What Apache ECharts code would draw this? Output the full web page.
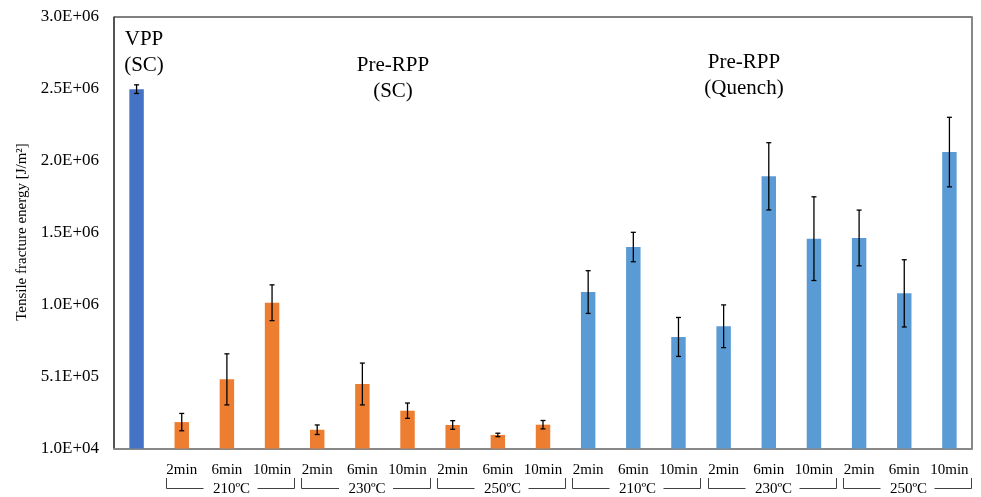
<!DOCTYPE html>
<html><head><meta charset="utf-8">
<script src="https://cdn.jsdelivr.net/npm/echarts@6/dist/echarts.min.js"></script>
<style>html,body{margin:0;padding:0;background:#fff}#c{width:981px;height:497px}</style>
</head><body><div id="c"></div>
<script>
// ---- data ----
const categories = ['', '2min','6min','10min','2min','6min','10min','2min','6min','10min',
                        '2min','6min','10min','2min','6min','10min','2min','6min','10min'];
const groupLabels = ['210ºC','230ºC','250ºC','210ºC','230ºC','250ºC'];
const vppValue = [2500000];
const vppErr = [30000];
const scValues = [193000, 489000, 1020000, 140000, 457000, 272000, 173000, 104000, 175000];
const scErr = [60000, 177000, 124000, 33000, 145000, 53000, 30000, 12000, 29000];
const quenchValues = [1094000, 1406000, 783000, 857000, 1896000, 1464000, 1469000, 1085000, 2064000];
const quenchErr = [148000, 102000, 135000, 148000, 233000, 290000, 193000, 233000, 241000];
const yTicks = [10000, 3000000];

// ---- build ----
const FONT = "'Liberation Serif','Times New Roman',serif";
const colVPP = '#4472C4', colSC = '#ED7D31', colQ = '#5B9BD5';
const barData = [];
const errData = [];
vppValue.forEach((v,i)=>{ barData.push({value:v, itemStyle:{color:colVPP}}); errData.push([barData.length-1, v-vppErr[i], v+vppErr[i]]); });
scValues.forEach((v,i)=>{ barData.push({value:v, itemStyle:{color:colSC}}); errData.push([barData.length-1, v-scErr[i], v+scErr[i]]); });
quenchValues.forEach((v,i)=>{ barData.push({value:v, itemStyle:{color:colQ}}); errData.push([barData.length-1, v-quenchErr[i], v+quenchErr[i]]); });

function fmt(v){
  let s = Number(v).toExponential(1).toUpperCase();
  return s.replace(/E([+-])(\d)$/, 'E$10$2');
}

const chart = echarts.init(document.getElementById('c'));
const yMin = yTicks[0], yMax = yTicks[1];
const option = {
  animation:false,
  backgroundColor:'#fff',
  grid:{left:114, right:9, top:17, bottom:48.5, show:true, borderColor:'#000', borderWidth:1},
  xAxis:{type:'category', data:categories,
    axisLine:{show:true, lineStyle:{color:'#888', width:2}},
    axisTick:{show:false},
    axisLabel:{interval:0, margin:14, fontFamily:FONT, fontSize:15, color:'#000'}},
  yAxis:[{type:'value', min:yMin, max:yMax, interval:(yMax-yMin)/6,
    splitLine:{show:false},
    axisLine:{show:true, lineStyle:{color:'#444', width:1.5}},
    axisTick:{show:false},
    axisLabel:{margin:15, fontFamily:FONT, fontSize:17, color:'#000', formatter:fmt}},
   {type:'value', position:'right', min:yMin, max:yMax, interval:(yMax-yMin)/6,
    splitLine:{show:false}, axisLabel:{show:false}, axisTick:{show:false},
    axisLine:{show:true, lineStyle:{color:'#888', width:2}}}],
  series:[
    {type:'bar', data:barData, barWidth:'32%'},
    {type:'custom', data:errData, z:10,
     renderItem:function(params, api){
       const x = api.value(0);
       const p1 = api.coord([x, api.value(1)]);
       const p2 = api.coord([x, api.value(2)]);
       const w = 2.5;
       const st = {stroke:'#000', lineWidth:1.3};
       return {type:'group', children:[
         {type:'line', shape:{x1:p1[0], y1:p1[1], x2:p2[0], y2:p2[1]}, style:st},
         {type:'line', shape:{x1:p1[0]-w, y1:p1[1], x2:p1[0]+w, y2:p1[1]}, style:st},
         {type:'line', shape:{x1:p2[0]-w, y1:p2[1], x2:p2[0]+w, y2:p2[1]}, style:st}
       ]};
     }}
  ]
};
chart.setOption(option);

// ---- decorations computed from the axis ----
const graphics = [];
const cx = i => chart.convertToPixel({xAxisIndex:0}, i);
const lineStyle = {stroke:'#404040', lineWidth:1};
groupLabels.forEach((lab, g)=>{
  const first = 1 + g*3, last = first + 2;
  const L = Math.round(cx(first) - 16) + 0.5, R = Math.round(cx(last) + 22) + 0.5;
  const M = (L + R) / 2;
  const yb = 488.5, yt = 478;
  graphics.push({type:'line', shape:{x1:L, y1:yt, x2:L, y2:yb}, style:lineStyle, silent:true});
  graphics.push({type:'line', shape:{x1:R, y1:yt, x2:R, y2:yb}, style:lineStyle, silent:true});
  graphics.push({type:'line', shape:{x1:L, y1:yb, x2:M-27, y2:yb}, style:lineStyle, silent:true});
  graphics.push({type:'line', shape:{x1:M+27, y1:yb, x2:R, y2:yb}, style:lineStyle, silent:true});
  graphics.push({type:'text', x:M+1, y:489, style:{text:lab, font:'15px '+FONT, fill:'#000', align:'center', verticalAlign:'middle'}});
});
const ann = (text, x, y) => graphics.push({type:'text', x:x, y:y,
  style:{text:text, font:'21px '+FONT, fill:'#000', align:'center', verticalAlign:'middle', lineHeight:26}});
ann('VPP\n(SC)', 144, 52);
ann('Pre-RPP\n(SC)', 393, 78);
ann('Pre-RPP\n(Quench)', 744, 75);
graphics.push({type:'text', x:22, y:232, rotation:Math.PI/2,
  style:{text:'Tensile fracture energy [J/m²]', font:'15px '+FONT, fill:'#000', align:'center', verticalAlign:'middle'}});
chart.setOption({graphic:graphics});
</script></body></html>
